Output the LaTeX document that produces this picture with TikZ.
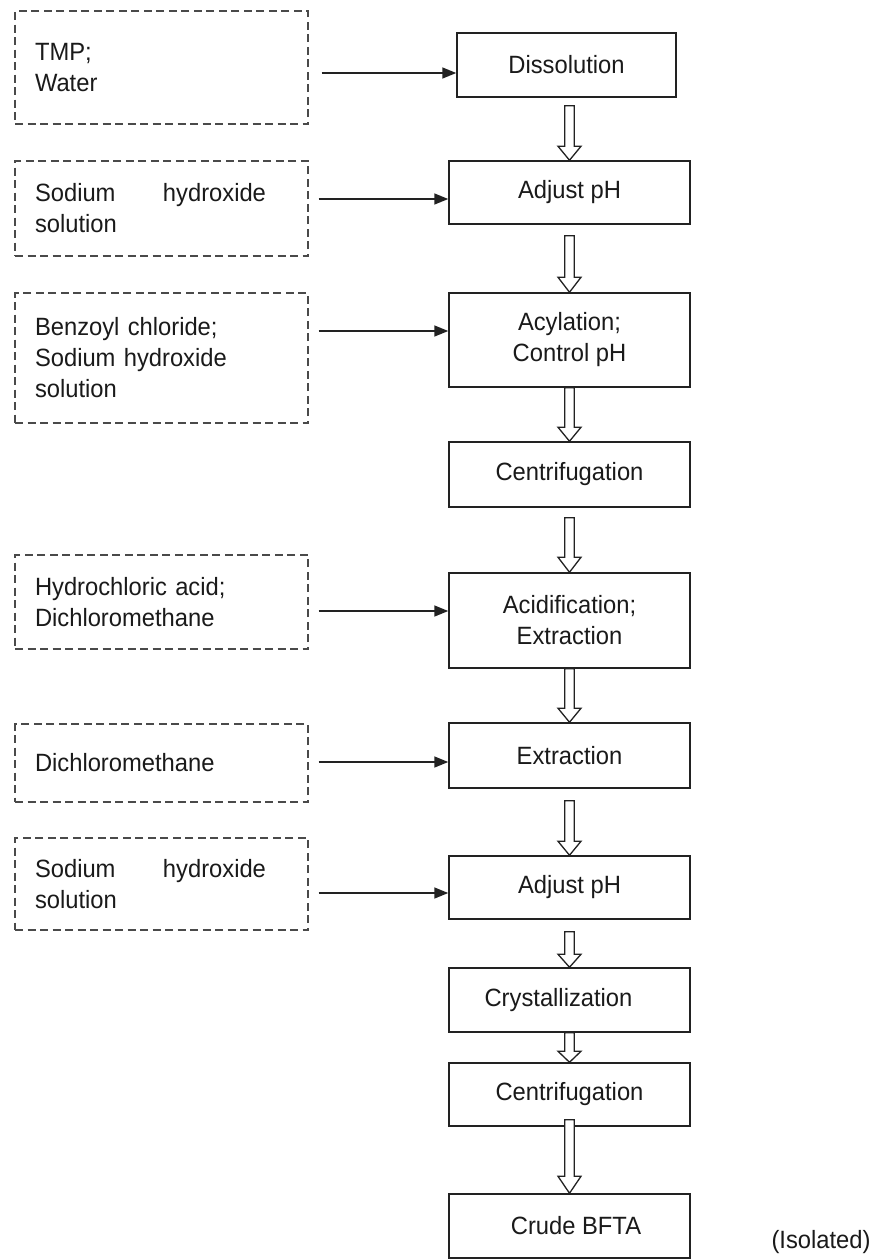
\documentclass[tikz,border=0pt]{standalone}
\usepackage{fontspec}
\setmainfont{Liberation Sans}[FakeStretch=0.95]
\usetikzlibrary{arrows.meta,calc}
\definecolor{edge}{HTML}{222222}
\definecolor{dashc}{HTML}{4A4A4A}
\definecolor{txt}{HTML}{1A1A1A}

% hollow block arrow from one step box down to the next
% #1 source anchor, #2 target anchor, #3 gap below source, #4 head length
\newcommand\hollowdown[4]{%
  \draw[hollow] let \p1=(#1), \p2=(#2) in
    (\x2-4.75pt,{\y1-(#3)}) -- (\x2-4.75pt,\y2+#4) -- (\x2-11.5pt,\y2+#4) --
    (\x2,\y2) -- (\x2+11.5pt,\y2+#4) -- (\x2+4.75pt,\y2+#4) --
    (\x2+4.75pt,{\y1-(#3)}) -- cycle;}

\begin{document}
\begin{tikzpicture}[x=1pt,y=-1pt,
  every node/.style={font=\fontsize{25}{31}\selectfont, text=txt},
  stepbox/.style={draw=edge, line width=1.5pt, minimum width=241pt,
    inner sep=0pt, align=center},
  feedbox/.style={draw=dashc, line width=1.4pt, dash pattern=on 8pt off 4.5pt,
    text width=253pt, inner xsep=20pt, inner ysep=0pt, align=left},
  feed/.style={line width=1.6pt, draw=edge, -{Triangle[length=14pt,width=11pt]}},
  hollow/.style={draw=edge, line width=1.3pt, fill=white, line join=miter}]

\fill[white] (0,0) rectangle (874,1259);
\useasboundingbox (0,0) rectangle (874,1259);

% feed materials
\node[feedbox, minimum height=113pt] (L1) at (161.5,67.5) {TMP;\\Water};
\node[feedbox, minimum height=95pt] (L2) at (161.5,208.5)
  {\makebox[231pt][l]{Sodium\hfill hydroxide}\\solution};
\node[feedbox, minimum height=130pt] (L3) at (161.5,358)
  {Benzoyl chloride;\\Sodium hydroxide\\solution};
\node[feedbox, minimum height=94pt] (L4) at (161.5,602)
  {Hydrochloric acid;\\Dichloromethane};
\node[feedbox, minimum height=78pt] (L5) at (161.5,763) {Dichloromethane};
\node[feedbox, minimum height=92pt] (L6) at (161.5,884)
  {\makebox[231pt][l]{Sodium\hfill hydroxide}\\solution};

% process steps
\node[stepbox, minimum width=219pt, minimum height=64pt] (R1) at (566.5,65) {Dissolution};
\node[stepbox, minimum height=63pt] (R2) at (569.5,192.5) {Adjust pH};
\node[stepbox, minimum height=94pt] (R3) at (569.5,340) {Acylation;\\Control pH};
\node[stepbox, minimum height=65pt] (R4) at (569.5,474.5) {Centrifugation};
\node[stepbox, minimum height=95pt] (R5) at (569.5,620.5) {Acidification;\\Extraction};
\node[stepbox, minimum height=65pt] (R6) at (569.5,755.5) {Extraction};
\node[stepbox, minimum height=63pt] (R7) at (569.5,887.5) {Adjust pH};
\node[stepbox, minimum height=64pt] (R8) at (569.5,1000) {\hspace*{-22pt}Crystallization};
\node[stepbox, minimum height=63pt] (R9) at (569.5,1094.5) {Centrifugation};
\node[stepbox, minimum height=64pt] (R10) at (569.5,1226) {\hspace*{13pt}Crude BFTA};
\node (iso) at (821,1242) {(Isolated)};

% material feeds
\draw[feed] ([xshift=13pt]L1.east |- 0,73) -- (R1.west |- 0,73);
\draw[feed] ([xshift=10pt]L2.east |- 0,199) -- (R2.west |- 0,199);
\draw[feed] ([xshift=10pt]L3.east |- 0,331) -- (R3.west |- 0,331);
\draw[feed] ([xshift=10pt]L4.east |- 0,611) -- (R5.west |- 0,611);
\draw[feed] ([xshift=10pt]L5.east |- 0,762) -- (R6.west |- 0,762);
\draw[feed] ([xshift=10pt]L6.east |- 0,893) -- (R7.west |- 0,893);

% process flow
\hollowdown{R1.south}{R2.north}{8pt}{14pt}
\hollowdown{R2.south}{R3.north}{11pt}{15pt}
\hollowdown{R3.south}{R4.north}{0pt}{14pt}
\hollowdown{R4.south}{R5.north}{10pt}{15pt}
\hollowdown{R5.south}{R6.north}{0pt}{14pt}
\hollowdown{R6.south}{R7.north}{12pt}{14pt}
\hollowdown{R7.south}{R8.north}{12pt}{13pt}
\hollowdown{R8.south}{R9.north}{0pt}{11pt}
\hollowdown{R9.south}{R10.north}{-7pt}{17pt}
\end{tikzpicture}
\end{document}
